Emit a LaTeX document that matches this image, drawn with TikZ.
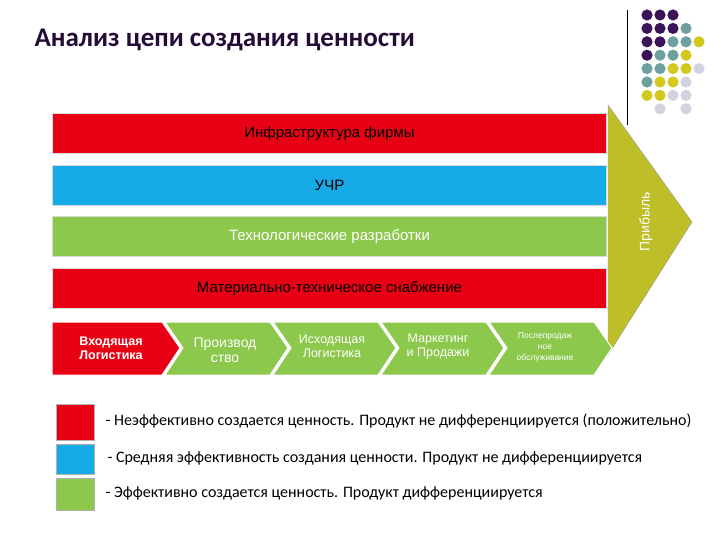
\documentclass[tikz,border=0pt]{standalone}
\usepackage{fontspec}
\setmainfont{Liberation Sans}
\newfontfamily\calib{Carlito}
\definecolor{rd}{RGB}{232,0,20}
\definecolor{bl}{RGB}{22,170,230}
\definecolor{gr}{RGB}{140,200,75}
\definecolor{tri}{RGB}{190,190,40}
\definecolor{pu}{RGB}{60,20,90}
\definecolor{te}{RGB}{110,160,160}
\definecolor{ye}{RGB}{210,200,30}
\definecolor{li}{RGB}{210,210,225}
\begin{document}
\begin{tikzpicture}[x=1pt,y=-1pt,
 bar/.style={draw=white!85!black,line width=1pt,minimum width=554pt,minimum height=40pt,anchor=north west,inner sep=0pt,font=\fontsize{15}{17}\selectfont},
 chev/.style={fill=gr,draw=white,line width=1pt},
 ct/.style={font=\fontsize{12.5}{14}\selectfont,text=white,align=center},
 sq/.style={draw=white!70!black,minimum width=38pt,anchor=north west,inner sep=0pt},
 lt/.style={font=\calib\fontsize{16}{18}\selectfont,anchor=west}]
\useasboundingbox (0,0) rectangle (720,540);
\node[font=\calib\bfseries\fontsize{27}{30}\selectfont,text=pu!60!black,anchor=west] (title) at (31,40) {Анализ цепи создания ценности};
\draw[line width=1pt] (627,10) -- (627,125);
\foreach \r/\cols in {0/{0/pu,1/pu,2/pu},1/{0/pu,1/pu,2/pu,3/te},2/{0/pu,1/pu,2/te,3/te,4/ye},3/{0/pu,1/te,2/te,3/ye},4/{0/te,1/te,2/ye,3/ye,4/li},5/{0/te,1/ye,2/ye,3/li},6/{0/ye,1/ye,2/li,3/li},7/{1/li,3/li}}
 \foreach \c/\cl in \cols \fill[\cl] (647+13*\c,15+13.4*\r) circle (5.6);
\fill[tri,draw=white!60!black] (608,105) -- (692,222) -- (608,355) -- cycle;
\node[rotate=90,font=\fontsize{14}{16}\selectfont,text=white] (prib) at (646,222) {Прибыль};
\node[bar,fill=rd,text=black] (b1) at (52,113) {Инфраструктура фирмы};
\node[bar,fill=bl,text=black] (b2) at (52,165) {УЧР};
\node[bar,fill=gr,text=white] (b3) at (52,216) {Технологические разработки};
\node[bar,fill=rd,text=black] (b4) at (52,268) {Материально-техническое снабжение};
\foreach \i/\x in {4/489,3/381,2/273,1/165}
 \fill[chev] (\x,322) -- (\x+105,322) -- (\x+123,348) -- (\x+105,375) -- (\x,375) -- (\x+18,348) -- cycle;
\fill[rd,draw=white,line width=1pt] (52,322) -- (162,322) -- (180,348) -- (162,375) -- (52,375) -- cycle;
\node[ct,font=\bfseries\fontsize{12.5}{14}\selectfont] (c0) at (111,348) {Входящая\\Логистика};
\node[ct,font=\fontsize{14}{15}\selectfont] (c1) at (225,350) {Производ\\ство};
\node[ct] (c2) at (332,346) {Исходящая\\Логистика};
\node[ct] (c3) at (438,346) {Маркетинг\\и Продажи};
\node[ct,font=\fontsize{8.5}{11}\selectfont] (c4) at (545,347) {Послепродаж\\ное\\обслуживание};
\node[sq,fill=rd,minimum height=36pt] (s1) at (56,404) {};
\node[sq,fill=bl,minimum height=30pt] (s2) at (56,444) {};
\node[sq,fill=gr,minimum height=32pt] (s3) at (56,478) {};
\node[lt] (l1) at (102,421) {- Неэффективно создается ценность. Продукт не дифференциируется (положительно)};
\node[lt] (l2) at (104,458) {- Средняя эффективность создания ценности. Продукт не дифференциируется};
\node[lt] (l3) at (102,493) {- Эффективно создается ценность. Продукт дифференциируется};
\end{tikzpicture}
\end{document}
